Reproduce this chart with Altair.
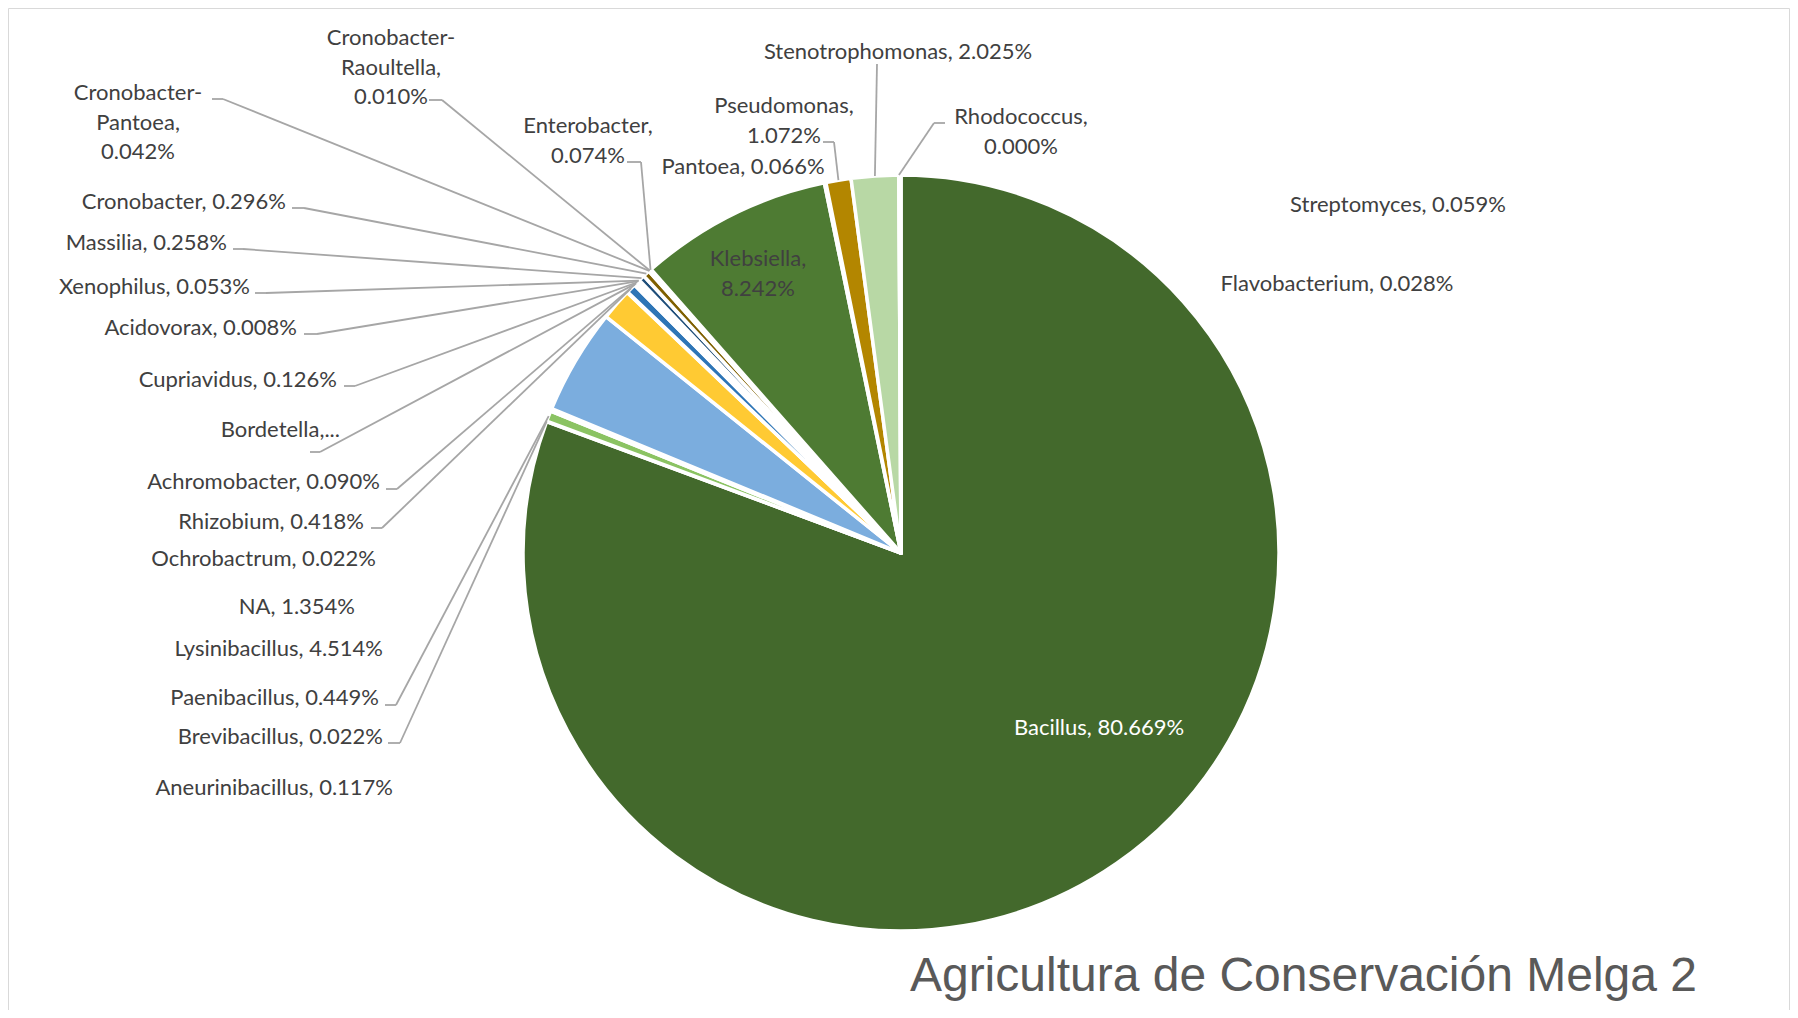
import altair as alt
import numpy as np
import pandas as pd

# ---------------- data ----------------
names = ["Bacillus", "Brevibacillus", "Paenibacillus", "Aneurinibacillus",
         "Lysinibacillus", "NA", "Ochrobactrum", "Rhizobium", "Achromobacter",
         "Bordetella", "Cupriavidus", "Acidovorax", "Xenophilus", "Massilia",
         "Cronobacter", "Cronobacter-Pantoea", "Cronobacter-Raoultella",
         "Enterobacter", "Klebsiella", "Pantoea", "Pseudomonas",
         "Stenotrophomonas", "Rhodococcus", "Streptomyces", "Flavobacterium"]
values = [80.669, 0.022, 0.449, 0.117,
          4.514, 1.354, 0.022, 0.418, 0.090,
          0.005, 0.126, 0.008, 0.053, 0.258,
          0.296, 0.042, 0.010,
          0.074, 8.242, 0.066, 1.072,
          2.025, 0.000, 0.059, 0.028]
colors = ["#43692C", "#A9D18E", "#8BC363", "#C5E0B4",
          "#7BADDE", "#FFCA33", "#9DC3E6", "#2E75B6", "#BDD7EE",
          "#DEEBF7", "#BDD7EE", "#F4B183", "#FFE699", "#1F4E79",
          "#7F6000", "#B4C7E7", "#FFD966",
          "#C9C9C9", "#4E7B33", "#D9D9D9", "#B38600",
          "#B8D8A5", "#70AD47", "#548235", "#375623"]

label_text = {
    "Bacillus": "Bacillus, 80.669%",
    "Brevibacillus": "Brevibacillus, 0.022%",
    "Paenibacillus": "Paenibacillus, 0.449%",
    "Aneurinibacillus": "Aneurinibacillus, 0.117%",
    "Lysinibacillus": "Lysinibacillus, 4.514%",
    "NA": "NA, 1.354%",
    "Ochrobactrum": "Ochrobactrum, 0.022%",
    "Rhizobium": "Rhizobium, 0.418%",
    "Achromobacter": "Achromobacter, 0.090%",
    "Bordetella": "Bordetella,...",
    "Cupriavidus": "Cupriavidus, 0.126%",
    "Acidovorax": "Acidovorax, 0.008%",
    "Xenophilus": "Xenophilus, 0.053%",
    "Massilia": "Massilia, 0.258%",
    "Cronobacter": "Cronobacter, 0.296%",
    "Cronobacter-Pantoea": "Cronobacter-\nPantoea,\n0.042%",
    "Cronobacter-Raoultella": "Cronobacter-\nRaoultella,\n0.010%",
    "Enterobacter": "Enterobacter,\n0.074%",
    "Klebsiella": "Klebsiella,\n8.242%",
    "Pantoea": "Pantoea, 0.066%",
    "Pseudomonas": "Pseudomonas,\n1.072%",
    "Stenotrophomonas": "Stenotrophomonas, 2.025%",
    "Rhodococcus": "Rhodococcus,\n0.000%",
    "Streptomyces": "Streptomyces, 0.059%",
    "Flavobacterium": "Flavobacterium, 0.028%",
}
title_text = "Agricultura de Conservación Melga 2"

# ---------------- layout (page pixels) ----------------
W, H = 1782, 1002
OFF = 8
CX, CY, R = 901 - OFF, 553 - OFF, 378

# name: (x, y of first line, align, kind, stub(sx, sy, ex, ey) or None)
layout = {
    "Cronobacter-Raoultella": (391, 38, "center", "dark", (429, 100, 442, 100)),
    "Cronobacter-Pantoea": (138, 93, "center", "dark", (212, 99, 223, 99)),
    "Enterobacter": (588, 126, "center", "dark", (627, 162, 641, 162)),
    "Cronobacter": (286, 202, "right", "dark", (292, 208, 304, 208)),
    "Massilia": (227, 243, "right", "dark", (233, 249, 243, 249)),
    "Xenophilus": (250, 287, "right", "dark", (255, 293, 266, 293)),
    "Acidovorax": (297, 328, "right", "dark", (304, 334, 317, 334)),
    "Cupriavidus": (337, 380, "right", "dark", (344, 386, 355, 386)),
    "Bordetella": (340, 430, "right", "dark", (310, 452, 320, 452)),
    "Achromobacter": (380, 482, "right", "dark", (386, 489, 397, 489)),
    "Rhizobium": (364, 522, "right", "dark", (371, 528, 382, 528)),
    "Ochrobactrum": (376, 559, "right", "dark", None),
    "NA": (355, 607, "right", "dark", None),
    "Lysinibacillus": (383, 649, "right", "dark", None),
    "Paenibacillus": (379, 698, "right", "dark", (385, 705, 396, 705)),
    "Brevibacillus": (383, 737, "right", "dark", (388, 743, 400, 743)),
    "Aneurinibacillus": (393, 788, "right", "dark", None),
    "Stenotrophomonas": (898, 52, "center", "dark", (877, 64, 877, 64)),
    "Pseudomonas": (784, 106, "center", "dark", (823, 142, 834, 142)),
    "Pantoea": (743, 167, "center", "dark", None),
    "Rhodococcus": (1021, 117, "center", "dark", (945, 123, 934, 123)),
    "Klebsiella": (758, 259, "center", "dark", None),
    "Bacillus": (1099, 728, "center", "white", None),
    "Streptomyces": (1398, 205, "center", "dark", None),
    "Flavobacterium": (1337, 284, "center", "dark", None),
}

# ---------------- derived tables ----------------
vals = np.array(values, dtype=float)
tot = vals.sum()
mid = (np.cumsum(vals) - vals / 2) / tot * 2 * np.pi
edge_x = CX + R * np.sin(mid)
edge_y = CY - R * np.cos(mid)

slices = pd.DataFrame({"name": names, "value": values, "idx": range(len(names))})

lab_rows, seg_rows = [], []
for i, n in enumerate(names):
    x, y, al, kind, stub = layout[n]
    lab_rows.append({"text": label_text[n], "x": x - OFF, "y": y - OFF,
                     "al": al, "kind": kind})
    if stub is not None:
        sx, sy, ex, ey = [v - OFF for v in stub]
        if (sx, sy) != (ex, ey):
            seg_rows.append({"x": sx, "y": sy, "x2": ex, "y2": ey})
        seg_rows.append({"x": ex, "y": ey, "x2": float(edge_x[i]), "y2": float(edge_y[i])})
labels = pd.DataFrame(lab_rows)
segs = pd.DataFrame(seg_rows)
frame = pd.DataFrame({"x": [0.5, 0.5, W - 0.5], "y": [0.5, 0.5, 0.5],
                      "x2": [W - 0.5, 0.5, W - 0.5], "y2": [0.5, H, H]})

xs = alt.Scale(domain=[0, W], range=[0, W], nice=False, zero=False)
ys = alt.Scale(domain=[0, H], range=[0, H], nice=False, zero=False)

FONT = "Lato"
FS = 22
TXT = "#404040"

pie = alt.Chart(slices).mark_arc(
    outerRadius=R, stroke="white", strokeWidth=3.5, strokeJoin="round"
).encode(
    theta=alt.Theta("value:Q", stack=True),
    color=alt.Color("name:N", scale=alt.Scale(domain=names, range=colors), legend=None),
    order=alt.Order("idx:Q"),
    x=alt.value(CX), y=alt.value(CY),
)

leaders = alt.Chart(segs).mark_rule(color="#A6A6A6", strokeWidth=1.8).encode(
    x=alt.X("x:Q", scale=xs, axis=None), y=alt.Y("y:Q", scale=ys, axis=None),
    x2="x2:Q", y2="y2:Q",
)

border = alt.Chart(frame).mark_rule(color="#D9D9D9", strokeWidth=1).encode(
    x=alt.X("x:Q", scale=xs, axis=None), y=alt.Y("y:Q", scale=ys, axis=None),
    x2="x2:Q", y2="y2:Q",
)

def text_layer(df, align, color):
    return alt.Chart(df).mark_text(
        font=FONT, fontSize=FS, color=color, align=align, baseline="middle",
        lineBreak="\n", lineHeight=29.5,
    ).encode(
        x=alt.X("x:Q", scale=xs, axis=None), y=alt.Y("y:Q", scale=ys, axis=None),
        text="text:N",
    )

t_right = text_layer(labels[labels["al"] == "right"], "right", TXT)
t_center = text_layer(labels[(labels["al"] == "center") & (labels["kind"] == "dark")], "center", TXT)
t_white = text_layer(labels[labels["kind"] == "white"], "center", "#FFFFFF")

title = alt.Chart(pd.DataFrame({"t": [title_text]})).mark_text(
    font="Liberation Sans", fontSize=48, color="#595959", align="right",
    baseline="alphabetic",
).encode(x=alt.value(1697 - OFF), y=alt.value(991 - OFF), text="t:N")

chart = alt.layer(border, pie, leaders, t_right, t_center, t_white, title).properties(
    width=W, height=H, padding=0, autosize="none", background="white"
).configure_view(stroke=None)

chart.save("out.html", embed_options={"renderer": "svg", "actions": False})
